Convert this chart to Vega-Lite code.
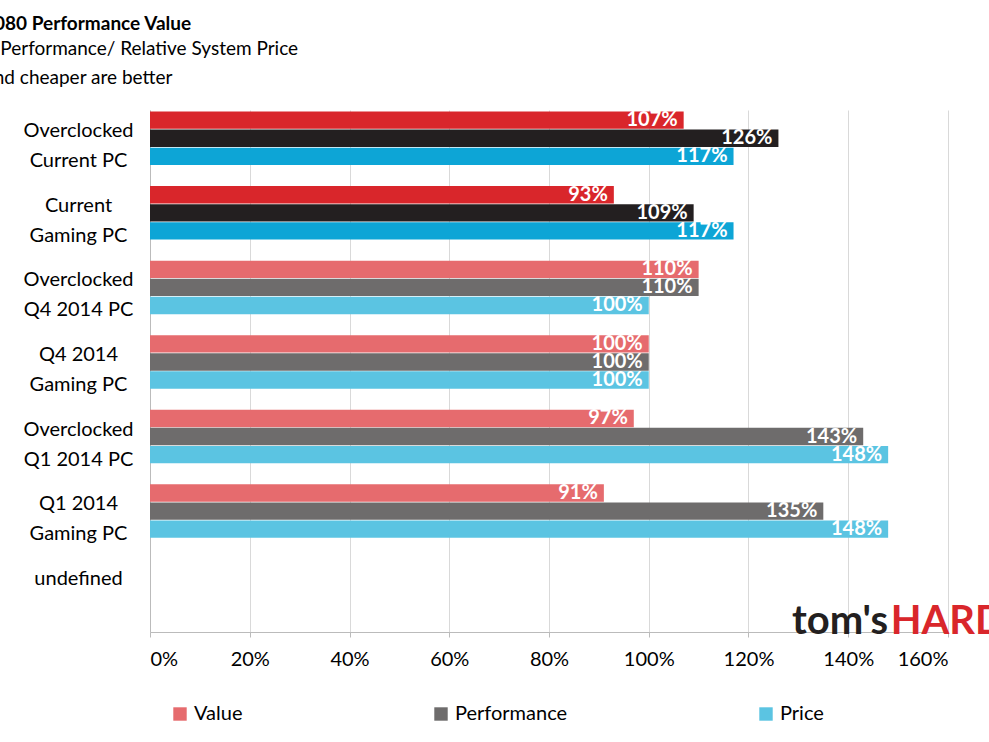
{
  "$schema": "https://vega.github.io/schema/vega-lite/v6.json",
  "autosize": "none",
  "width": 798,
  "height": 522,
  "padding": {"left": 150, "top": 110, "right": 41, "bottom": 110},
  "background": "white",
  "config": {"font": "Lato", "view": {"stroke": null}},
  "title": {
    "text": "1920x1080 Performance Value",
    "subtitle": ["Relative Performance/ Relative System Price", "Faster and cheaper are better"],
    "anchor": "start",
    "dx": -94,
    "offset": 22,
    "fontSize": 19,
    "fontWeight": "bold",
    "color": "#000",
    "subtitleFontSize": 19,
    "subtitleColor": "#000",
    "subtitlePadding": 6,
    "subtitleLineHeight": 29
  },
  "data": {
    "values": [
      {"group": "Overclocked|Current PC", "series": "Value", "era": "new", "v": 1.07},
      {"group": "Overclocked|Current PC", "series": "Performance", "era": "new", "v": 1.26},
      {"group": "Overclocked|Current PC", "series": "Price", "era": "new", "v": 1.17},
      {"group": "Current|Gaming PC", "series": "Value", "era": "new", "v": 0.93},
      {"group": "Current|Gaming PC", "series": "Performance", "era": "new", "v": 1.09},
      {"group": "Current|Gaming PC", "series": "Price", "era": "new", "v": 1.17},
      {"group": "Overclocked|Q4 2014 PC", "series": "Value", "era": "old", "v": 1.10},
      {"group": "Overclocked|Q4 2014 PC", "series": "Performance", "era": "old", "v": 1.10},
      {"group": "Overclocked|Q4 2014 PC", "series": "Price", "era": "old", "v": 1.00},
      {"group": "Q4 2014|Gaming PC", "series": "Value", "era": "old", "v": 1.00},
      {"group": "Q4 2014|Gaming PC", "series": "Performance", "era": "old", "v": 1.00},
      {"group": "Q4 2014|Gaming PC", "series": "Price", "era": "old", "v": 1.00},
      {"group": "Overclocked|Q1 2014 PC", "series": "Value", "era": "old", "v": 0.97},
      {"group": "Overclocked|Q1 2014 PC", "series": "Performance", "era": "old", "v": 1.43},
      {"group": "Overclocked|Q1 2014 PC", "series": "Price", "era": "old", "v": 1.48},
      {"group": "Q1 2014|Gaming PC", "series": "Value", "era": "old", "v": 0.91},
      {"group": "Q1 2014|Gaming PC", "series": "Performance", "era": "old", "v": 1.35},
      {"group": "Q1 2014|Gaming PC", "series": "Price", "era": "old", "v": 1.48}
    ]
  },
  "transform": [{"calculate": "datum.series + '|' + datum.era", "as": "key"}],
  "layer": [
    {
      "mark": {"type": "bar"},
      "encoding": {
        "color": {
          "field": "key",
          "type": "nominal",
          "scale": {
            "domain": ["Value|old", "Performance|old", "Price|old", "Value|new", "Performance|new", "Price|new"],
            "range": ["#e66b6e", "#6e6c6c", "#5bc4e2", "#d9262b", "#231f20", "#0da5d6"]
          },
          "legend": {
            "values": ["Value|old", "Performance|old", "Price|old"],
            "labelExpr": "split(datum.label, '|')[0]",
            "title": null,
            "orient": "none",
            "legendX": 20,
            "legendY": 594,
            "direction": "horizontal",
            "symbolType": "square",
            "symbolSize": 180,
            "symbolStrokeWidth": 0,
            "labelFontSize": 20,
            "labelColor": "#000",
            "columnPadding": 188,
            "labelLimit": 300
          }
        }
      }
    },
    {
      "mark": {"type": "text", "align": "right", "baseline": "middle", "dx": -6, "fontSize": 20, "fontWeight": "bold", "color": "white"},
      "encoding": {"text": {"field": "v", "type": "quantitative", "format": ".0%"}}
    },
    {
      "data": {"values": [{"part": "tom's", "x": 1.48}]},
      "mark": {"type": "text", "align": "right", "baseline": "middle", "fontSize": 40, "fontWeight": "bold", "color": "#231f20", "y": -78},
      "encoding": {"x": {"field": "x", "type": "quantitative"}, "text": {"field": "part"}}
    },
    {
      "data": {"values": [{"part": "HARDWARE", "x": 1.485}]},
      "mark": {"type": "text", "align": "left", "baseline": "middle", "fontSize": 40, "fontWeight": "bold", "color": "#d9262b", "y": -78},
      "encoding": {"x": {"field": "x", "type": "quantitative"}, "text": {"field": "part"}}
    }
  ],
  "encoding": {
    "y": {
      "field": "group",
      "type": "nominal",
      "sort": null,
      "scale": {"paddingInner": 0.04, "paddingOuter": 0.02},
      "axis": {
        "title": null,
        "labelExpr": "split(datum.label, '|')",
        "labelAlign": "center",
        "labelPadding": 72,
        "labelOffset": -16,
        "labelFontSize": 20,
        "labelColor": "#000",
        "labelLineHeight": 30,
        "ticks": false,
        "domainColor": "#bbb"
      }
    },
    "yOffset": {
      "field": "series",
      "type": "nominal",
      "sort": ["Value", "Performance", "Price"],
      "scale": {"paddingInner": 0.04}
    },
    "x": {
      "field": "v",
      "type": "quantitative",
      "scale": {"domain": [0, 1.6]},
      "axis": {
        "title": null,
        "format": ".0%",
        "values": [0, 0.2, 0.4, 0.6, 0.8, 1.0, 1.2, 1.4, 1.6],
        "labelFontSize": 20,
        "labelColor": "#000",
        "labelPadding": 12,
        "gridColor": "#d9d9d9",
        "domainColor": "#bbb",
        "tickColor": "#bbb",
        "tickSize": 5
      }
    }
  }
}
